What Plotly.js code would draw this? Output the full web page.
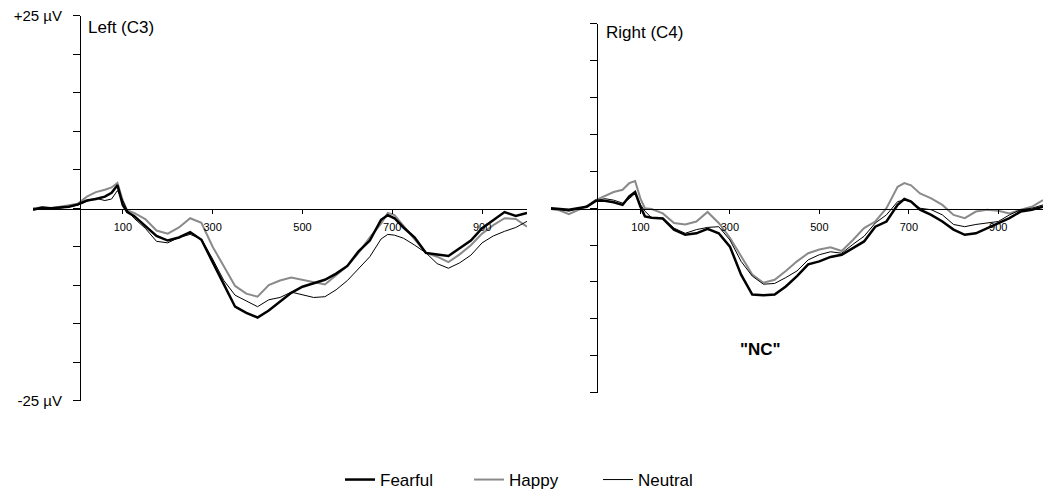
<!DOCTYPE html>
<html>
<head>
<meta charset="utf-8">
<script src="https://cdn.plot.ly/plotly-3.0.1.min.js"></script>
<style>
  html, body { margin: 0; padding: 0; background: #fff; }
  #plot { width: 1050px; height: 498px; }
</style>
</head>
<body>
<div id="plot"></div>
<script>
// time points (ms) shared by every curve
const times = [-100, -80, -60, -40, -20, 0, 20, 40, 60, 75, 88, 100, 110, 125, 150, 175, 200, 225, 250, 275,
  300, 325, 350, 375, 400, 425, 450, 475, 500, 525, 550, 575, 600, 625, 650, 675, 690, 705, 725, 750,
  775, 800, 825, 850, 875, 900, 925, 950, 975, 1000];

// Left (C3), amplitude in microvolts
const leftFearful = [-0.2, 0.1, 0.0, 0.1, 0.2, 0.5, 1.0, 1.2, 1.5, 2.0, 3.0, 0.4, -0.5, -1.0, -2.3, -3.6, -4.2, -3.8, -3.1, -4.1,
  -7.0, -10.0, -12.8, -13.6, -14.2, -13.3, -12.2, -11.0, -10.2, -9.8, -9.3, -8.5, -7.5, -5.6, -4.2, -1.5, -0.9, -1.3, -2.5, -3.8,
  -5.8, -6.0, -6.2, -5.2, -4.2, -2.6, -1.5, -0.5, -1.0, -0.6];
const leftHappy = [0.0, 0.1, 0.0, 0.2, 0.4, 0.6, 1.5, 2.1, 2.4, 2.7, 3.3, 1.0, -0.3, -0.6, -1.4, -2.9, -3.3, -2.5, -1.3, -1.9,
  -5.0, -7.6, -10.1, -11.1, -11.5, -10.0, -9.4, -9.0, -9.3, -9.6, -9.9, -8.7, -7.5, -5.8, -3.8, -2.0, -0.6, -0.9, -2.3, -4.0,
  -5.8, -6.3, -7.0, -6.0, -4.8, -3.3, -2.2, -1.3, -1.4, -2.4];
const leftNeutral = [-0.1, 0.0, 0.0, 0.0, 0.2, 0.4, 0.9, 1.3, 1.0, 1.2, 2.3, 1.0, -0.3, -1.3, -2.6, -4.3, -4.5, -3.8, -3.4, -4.0,
  -6.6, -9.4, -11.3, -12.0, -12.8, -11.9, -11.6, -10.9, -11.3, -11.6, -11.5, -10.6, -9.4, -7.8, -6.3, -4.0, -3.4, -3.5, -3.9, -4.8,
  -5.8, -7.2, -7.8, -7.1, -6.1, -4.5, -3.6, -3.0, -2.5, -1.7];

// Right (C4), amplitude in microvolts
const rightFearful = [0.0, -0.1, -0.2, 0.0, 0.2, 1.0, 1.0, 0.8, 0.45, 1.6, 2.2, 0.2, -1.1, -1.3, -1.4, -2.9, -3.6, -3.4, -2.8, -3.4,
  -5.2, -9.0, -11.7, -11.8, -11.7, -10.6, -9.2, -7.6, -7.2, -6.6, -6.3, -5.4, -4.5, -2.5, -1.8, 0.45, 1.25, 0.9, -0.2, -0.9,
  -1.8, -2.9, -3.6, -3.4, -2.7, -2.0, -1.35, -0.45, -0.2, 0.2];
const rightHappy = [-0.1, -0.3, -0.8, -0.2, 0.3, 1.1, 1.6, 2.2, 2.5, 3.4, 3.7, 1.3, 0.0, -0.1, -0.7, -2.0, -2.2, -1.8, -0.5, -2.0,
  -4.0, -6.5, -9.0, -10.1, -9.7, -8.5, -7.2, -6.1, -5.6, -5.3, -5.8, -4.3, -2.7, -1.8, 0.0, 2.9, 3.4, 3.1, 2.0, 1.35,
  0.45, -0.9, -1.35, -0.45, -0.2, -0.35, -0.7, -0.2, 0.2, 1.1];
const rightNeutral = [0.0, -0.2, -0.4, -0.1, 0.3, 1.0, 1.3, 1.1, 0.7, 1.3, 2.0, 0.5, -0.4, -1.3, -1.35, -2.7, -3.4, -2.9, -2.6, -2.5,
  -4.3, -7.2, -9.2, -10.3, -10.2, -9.4, -8.5, -7.0, -6.3, -5.9, -6.1, -4.9, -3.8, -2.0, -0.9, 0.9, 1.1, 0.9, 0.0, -0.2,
  -0.9, -2.2, -2.5, -2.2, -2.0, -1.8, -0.9, -0.2, 0.0, 0.45];

const xTicks = [100, 300, 500, 700, 900];
const yTicks = [-25, -20, -15, -10, -5, 0, 5, 10, 15, 20, 25];
const yTickText = ['-25 µV', '', '', '', '', '', '', '', '', '', '+25 µV'];

const styles = {
  Fearful: { color: '#000000', width: 2.5, rank: 1 },
  Happy: { color: '#8a8a8a', width: 2, rank: 2 },
  Neutral: { color: '#000000', width: 1, rank: 3 }
};

function makeTrace(y, name, xa, ya, legend) {
  const s = styles[name];
  return {
    x: times, y: y, name: name, type: 'scatter', mode: 'lines',
    xaxis: xa, yaxis: ya, showlegend: legend, legendrank: s.rank,
    line: { color: s.color, width: s.width }
  };
}

const font = 'Liberation Sans, Arial, sans-serif';

function xAxis(domain) {
  return {
    domain: domain, range: [-100, 1000], anchor: 'free', position: 1 - 210 / 498,
    showline: true, linecolor: '#000', linewidth: 1, showgrid: false, zeroline: false,
    ticks: 'outside', ticklen: 4, tickcolor: '#000', tickvals: xTicks,
    ticklabelstandoff: 4, tickfont: { family: font, size: 11, color: '#000' }
  };
}

function yAxis(domain, pos, labels) {
  return {
    domain: domain, range: [-25, 25], anchor: 'free', position: pos,
    showline: true, linecolor: '#000', linewidth: 1, showgrid: false, zeroline: false,
    ticks: 'outside', ticklen: 7, tickcolor: '#000', tickvals: yTicks, ticktext: yTickText,
    showticklabels: labels, ticklabelstandoff: 8, tickfont: { family: font, size: 15, color: '#000' }
  };
}

const data = [
  makeTrace(leftHappy, 'Happy', 'x', 'y', true),
  makeTrace(leftNeutral, 'Neutral', 'x', 'y', true),
  makeTrace(leftFearful, 'Fearful', 'x', 'y', true),
  makeTrace(rightHappy, 'Happy', 'x2', 'y2', false),
  makeTrace(rightNeutral, 'Neutral', 'x2', 'y2', false),
  makeTrace(rightFearful, 'Fearful', 'x2', 'y2', false)
];

const layout = {
  width: 1050, height: 498,
  margin: { l: 0, r: 0, t: 0, b: 0 },
  paper_bgcolor: '#fff', plot_bgcolor: 'rgba(0,0,0,0)',
  showlegend: true,
  hovermode: false,
  xaxis: xAxis([33 / 1050, 527 / 1050]),
  yaxis: yAxis([1 - 403 / 498, 1 - 16 / 498], 80 / 1050, true),
  xaxis2: xAxis([551 / 1050, 1043 / 1050]),
  yaxis2: yAxis([1 - 395 / 498, 1 - 24 / 498], 597 / 1050, false),
  legend: {
    orientation: 'h', x: 340 / 1050, xanchor: 'left', y: 1 - 483 / 498, yanchor: 'middle',
    font: { family: font, size: 17, color: '#000' },
    entrywidth: 84, entrywidthmode: 'pixels', traceorder: 'normal'
  },
  annotations: [
    { text: 'Left (C3)', xref: 'paper', yref: 'paper', x: 86 / 1050, y: 1 - 28 / 498,
      xanchor: 'left', yanchor: 'middle', showarrow: false, font: { family: font, size: 17, color: '#000' } },
    { text: 'Right (C4)', xref: 'paper', yref: 'paper', x: 604 / 1050, y: 1 - 33 / 498,
      xanchor: 'left', yanchor: 'middle', showarrow: false, font: { family: font, size: 17, color: '#000' } },
    { text: '<b>"NC"</b>', xref: 'paper', yref: 'paper', x: 760 / 1050, y: 1 - 352 / 498,
      xanchor: 'center', yanchor: 'middle', showarrow: false, font: { family: font, size: 17, color: '#000' } }
  ]
};

Plotly.newPlot('plot', data, layout, { displayModeBar: false, staticPlot: true });
</script>
</body>
</html>
